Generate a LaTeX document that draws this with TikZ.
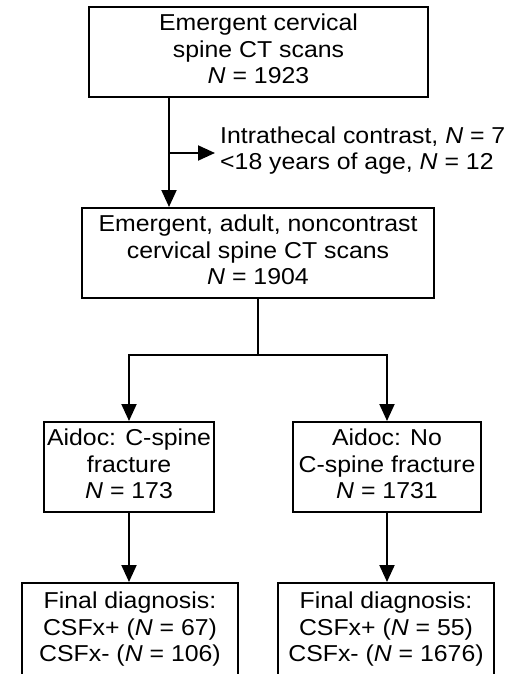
\documentclass[tikz,border=0pt]{standalone}
\usepackage{fontspec}
\usepackage{graphicx}
\setmainfont{Liberation Sans}
\usetikzlibrary{arrows.meta}
\newcommand\wtext[2][c]{\scalebox{1.08}[1]{\begin{tabular}{@{}#1@{}}#2\end{tabular}}}
\begin{document}
\begin{tikzpicture}[x=1pt,y=-1pt,
  box/.style={draw=black,line width=2pt,inner sep=0pt,align=center,minimum height=90pt},
  arr/.style={line width=2pt,-{Triangle[length=17pt,width=15pt]}},
  ln/.style={line width=2pt},
  every node/.style={font=\fontsize{23}{26.5}\selectfont}]
\useasboundingbox (0,0) rectangle (505,674);
\clip (0,0) rectangle (505,674);
\node[box,minimum width=339pt] (b1) at (258.5,52) {\wtext{Emergent cervical\\spine CT scans\\\textit{N} = 1923}};
\node[box,minimum width=352pt] (b2) at (258,253) {\wtext{Emergent, adult, noncontrast\\cervical spine CT scans\\\textit{N} = 1904}};
\node[box,minimum width=170pt] (b3) at (129,467) {\wtext{Aidoc: C-spine\\fracture\\\textit{N} = 173}};
\node[box,minimum width=188pt] (b4) at (387,467) {\wtext{Aidoc: No\\C-spine fracture\\\textit{N} = 1731}};
\node[box,minimum width=216pt,minimum height=94pt] (b5) at (130,630) {\wtext{Final diagnosis:\\CSFx+ (\textit{N} = 67)\\CSFx- (\textit{N} = 106)}};
\node[box,minimum width=216pt,minimum height=94pt] (b6) at (386,630) {\wtext{Final diagnosis:\\CSFx+ (\textit{N} = 55)\\CSFx- (\textit{N} = 1676)}};
\node[anchor=west,inner sep=0pt] (ex) at (220,151) {\wtext[l]{Intrathecal contrast, \textit{N} = 7\\<18 years of age, \textit{N} = 12}};
\coordinate (s1) at (169,97);
\coordinate (br) at (169,153);
\coordinate (tip) at (215,153);
\coordinate (sp) at (258,355);
\draw[arr] (s1) -- (s1 |- b2.north);
\draw[arr] (br) -- (tip);
\draw[ln] (b2.south) -- (sp);
\draw[arr] (sp) -| (b3.north);
\draw[arr] (sp) -| (b4.north);
\draw[arr] (b3.south) -- (b3.south |- b5.north);
\draw[arr] (b4.south) -- (b4.south |- b6.north);
\end{tikzpicture}
\end{document}
